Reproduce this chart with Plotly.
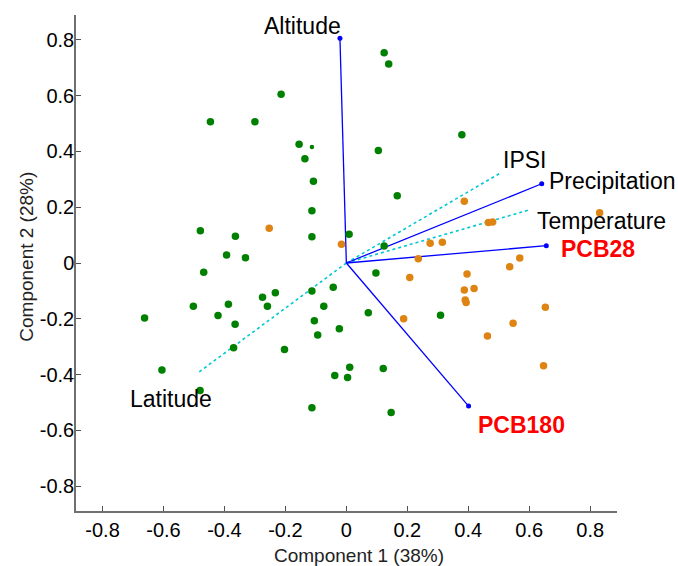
import plotly.graph_objects as go

# ---- data ----
green_x = [-0.214, -0.446, -0.300, -0.155, -0.136, -0.108, -0.113, -0.479, -0.364, -0.113,
           0.009, -0.393, -0.331, -0.468, -0.233, -0.275, -0.259, -0.113, -0.043, -0.502,
           -0.387, -0.421, -0.365, -0.074, -0.105, -0.023, -0.094, -0.370, -0.203, 0.011,
           -0.038, 0.004, -0.480, -0.662, -0.605, -0.113, 0.097, 0.072, 0.309, 0.121,
           0.147, 0.167, 0.124, 0.124, 0.139, 0.379, 0.105]
green_y = [0.605, 0.506, 0.506, 0.426, 0.374, 0.293, 0.187, 0.116, 0.096, 0.094,
           0.103, 0.029, 0.019, -0.033, -0.107, -0.123, -0.155, -0.100, -0.087, -0.155,
           -0.148, -0.188, -0.220, -0.155, -0.207, -0.236, -0.258, -0.304, -0.310, -0.374,
           -0.403, -0.410, -0.457, -0.197, -0.384, -0.519, -0.036, -0.178, -0.187, -0.378,
           -0.536, 0.241, 0.061, 0.754, 0.713, 0.460, 0.403]
green_small_x = [-0.113]
green_small_y = [0.416]

orange_x = [-0.253, -0.016, 0.208, 0.396, 0.387, 0.419, 0.390, 0.393, 0.653, 0.547,
            0.463, 0.647, 0.188, 0.387, 0.466, 0.480, 0.275, 0.315, 0.236, 0.831,
            0.569, 0.536]
orange_y = [0.125, 0.067, -0.052, -0.039, -0.097, -0.091, -0.133, -0.142, -0.159, -0.216,
            -0.262, -0.368, -0.200, 0.221, 0.145, 0.147, 0.071, 0.074, 0.015, 0.180,
            0.018, -0.013]

solid_names = ["Altitude", "Precipitation", "PCB28", "PCB180"]
solid_x = [-0.021, 0.641, 0.656, 0.401]
solid_y = [0.806, 0.284, 0.062, -0.513]

dotted_names = ["IPSI", "Temperature", "Latitude"]
dotted_x = [0.509, 0.596, -0.486]
dotted_y = [0.325, 0.189, -0.393]

tick_vals = [-0.8, -0.6, -0.4, -0.2, 0, 0.2, 0.4, 0.6, 0.8]
tick_text = ["-0.8", "-0.6", "-0.4", "-0.2", "0", "0.2", "0.4", "0.6", "0.8"]

# ---- styles ----
FONT = "Liberation Sans, Arial, sans-serif"
GREEN = "rgb(0,128,0)"
ORANGE = "rgb(222,132,18)"
BLUE = "rgb(0,0,255)"
CYAN = "rgb(0,200,210)"

# label offsets in pixels (dx right, dy up) and styles
label_style = {
    "Altitude": dict(dx=-37, dy=12, color="black", bold=False),
    "Precipitation": dict(dx=71, dy=3, color="black", bold=False),
    "PCB28": dict(dx=52, dy=-3, color="red", bold=True),
    "PCB180": dict(dx=53, dy=-19, color="red", bold=True),
    "IPSI": dict(dx=23, dy=12, color="black", bold=False),
    "Temperature": dict(dx=73, dy=-11, color="black", bold=False),
    "Latitude": dict(dx=-27, dy=-26, color="black", bold=False),
}

fig = go.Figure()

for name, vx, vy in zip(dotted_names, dotted_x, dotted_y):
    fig.add_trace(go.Scatter(x=[0, vx], y=[0, vy], mode="lines",
                             line=dict(color=CYAN, width=1.6, dash="dot"),
                             hoverinfo="skip", showlegend=False))
for name, vx, vy in zip(solid_names, solid_x, solid_y):
    fig.add_trace(go.Scatter(x=[0, vx], y=[0, vy], mode="lines",
                             line=dict(color=BLUE, width=1.3),
                             hoverinfo="skip", showlegend=False))
fig.add_trace(go.Scatter(x=solid_x, y=solid_y, mode="markers",
                         marker=dict(color=BLUE, size=5), showlegend=False))

fig.add_trace(go.Scatter(x=green_x, y=green_y, mode="markers",
                         marker=dict(color=GREEN, size=7.5), showlegend=False))
fig.add_trace(go.Scatter(x=green_small_x, y=green_small_y, mode="markers",
                         marker=dict(color=GREEN, size=4.5), showlegend=False))
fig.add_trace(go.Scatter(x=orange_x, y=orange_y, mode="markers",
                         marker=dict(color=ORANGE, size=7.5), showlegend=False))

annotations = []
for names, xs, ys in ((solid_names, solid_x, solid_y), (dotted_names, dotted_x, dotted_y)):
    for name, vx, vy in zip(names, xs, ys):
        st = label_style[name]
        txt = f"<b>{name}</b>" if st["bold"] else name
        annotations.append(dict(x=vx, y=vy, xref="x", yref="y", text=txt,
                                showarrow=False, xanchor="center", yanchor="middle",
                                xshift=st["dx"], yshift=st["dy"],
                                font=dict(family=FONT, size=23, color=st["color"])))

annotations.append(dict(x=0.524, y=-0.089, xref="paper", yref="paper",
                        text="Component 1 (38%)", showarrow=False,
                        xanchor="center", yanchor="middle",
                        font=dict(family=FONT, size=19, color="#222")))
annotations.append(dict(x=-0.093, y=0.512, xref="paper", yref="paper",
                        text="Component 2 (28%)", showarrow=False, textangle=-90,
                        xanchor="center", yanchor="middle",
                        font=dict(family=FONT, size=19, color="#222")))

axis_common = dict(showgrid=False, zeroline=False, showline=True,
                   linecolor="#707070", linewidth=1.5,
                   ticks="inside", ticklen=5, tickwidth=1.2, tickcolor="#505050",
                   tickvals=tick_vals, ticktext=tick_text,
                   tickfont=dict(family=FONT, size=20, color="black"),
                   mirror=False)

fig.update_layout(
    width=678, height=566,
    margin=dict(l=76, r=61, t=15, b=55),
    paper_bgcolor="white", plot_bgcolor="white",
    xaxis=dict(range=[-0.887, 0.888], **axis_common),
    yaxis=dict(range=[-0.889, 0.889], ticklabelstandoff=-4, **axis_common),
    annotations=annotations,
    showlegend=False,
)

fig.write_html("out.html", config={"displayModeBar": False},
               post_script="document.body.style.margin='0px';document.body.style.overflow='hidden';")
